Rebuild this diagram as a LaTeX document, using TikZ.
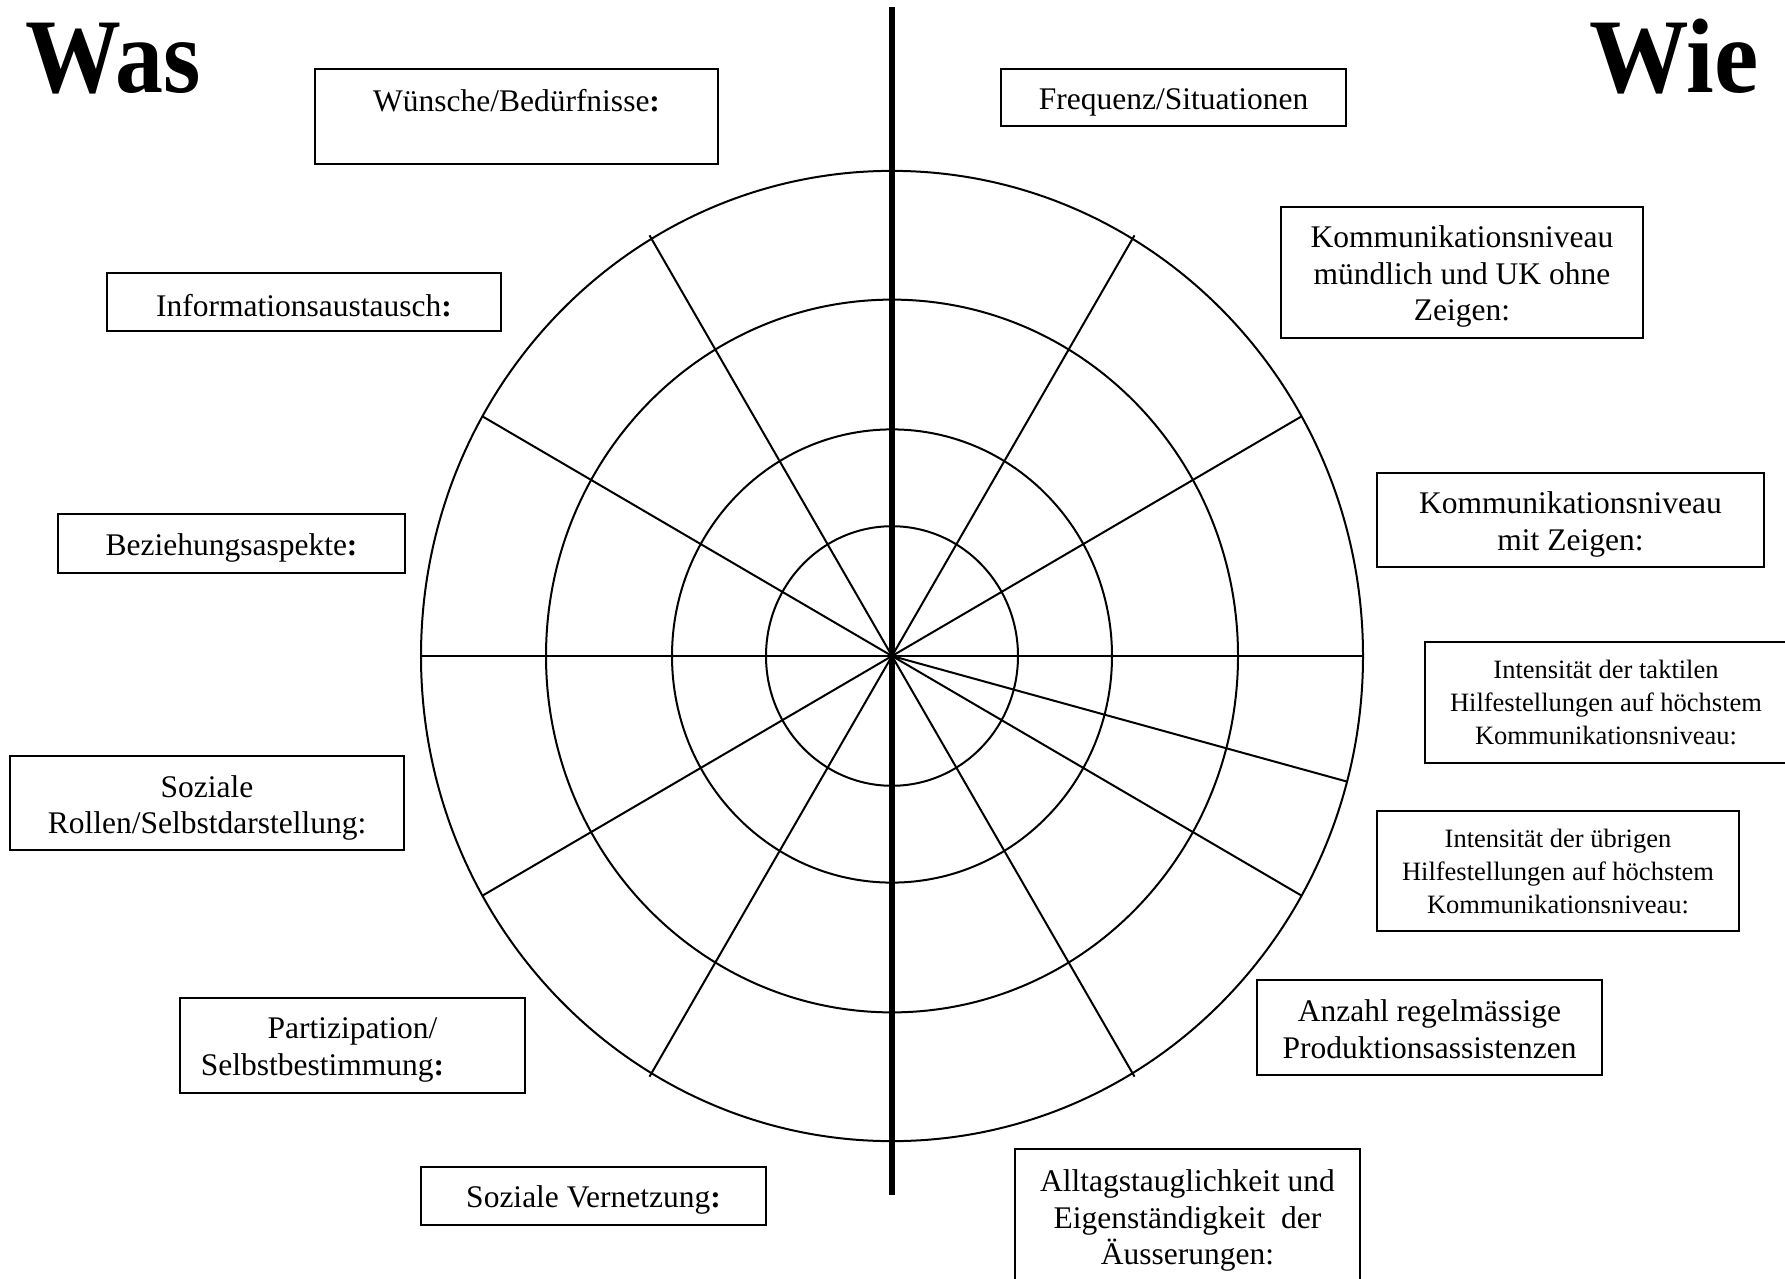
\documentclass[tikz,border=0pt]{standalone}
\usepackage{fontspec}
\setmainfont{Liberation Serif}
\usepackage{graphicx}
\newcommand\tp[1][30pt]{\rule{0pt}{#1}}
\begin{document}
\begin{tikzpicture}[x=1pt,y=-1pt,
  gridline/.style={line width=2pt},
  basebox/.style={draw, line width=2pt, align=center, inner sep=0pt},
  box/.style={basebox, font=\fontsize{31.5}{36.5}\selectfont},
  sbox/.style={basebox, font=\fontsize{26.5}{33}\selectfont},
  title/.style={inner sep=0pt, font=\fontsize{106}{106}\selectfont\bfseries}]
\useasboundingbox (0,0) rectangle (1785,1279);
\clip (0,0) rectangle (1785,1279);
\coordinate (c) at (892,656);
\foreach \r in {471,346,220,126}
  \draw[gridline] (c) ellipse [x radius=\r pt, y radius={1.03*\r pt}];
\foreach \a/\l in {0/471,29.6/471,59.3/475,120.7/475,150.4/471,180/471,209.6/471,239.3/475,300.7/475,330.4/471,-15/471}
  \draw[gridline] (c) -- ++({\l*cos(\a)},{-1.03*\l*sin(\a)});
\coordinate (vtop) at (892,7);
\coordinate (vbot) at (892,1195);
\draw[line width=6pt] (vtop) -- (vbot);

\node[title, anchor=base west] (was) at (25,93) {\scalebox{0.905}[1]{Was}};
\node[title, anchor=base east] (wie) at (1759,93) {\scalebox{0.94}[1]{Wie}};

\node[box, minimum width=403pt, minimum height=95pt] (wuensche) at (516.5,116.5) {\tp[26pt]Wünsche/Bedürfnisse\textbf{:}\\\mbox{}};
\node[box, minimum width=394pt, minimum height=58pt] (info) at (304,302) {\tp Informationsaustausch\textbf{:}};
\node[box, minimum width=347pt, minimum height=59pt] (bez) at (231.5,543.5) {\tp Beziehungsaspekte\textbf{:}};
\node[box, minimum width=394pt, minimum height=94pt] (rollen) at (207,803) {\tp[32pt]Soziale\\Rollen/Selbstdarstellung:};
\node[box, minimum width=345pt, minimum height=95pt] (partiz) at (352.5,1045.5) {\tp Partizipation/\\Selbstbestimmung\textbf{:}\makebox[60pt]{}};
\node[box, minimum width=345pt, minimum height=58pt] (vernetz) at (593.5,1196) {\tp Soziale Vernetzung\textbf{:}};
\node[box, minimum width=345pt, minimum height=57pt] (freq) at (1173.5,97.5) {\tp Frequenz/Situationen};
\node[box, minimum width=362pt, minimum height=131pt] (muend) at (1462,272.5) {\tp Kommunikationsniveau\\mündlich und UK ohne\\Zeigen:};
\node[box, minimum width=387pt, minimum height=94pt] (zeigen) at (1570.5,520) {\tp[31pt]Kommunikationsniveau\\mit Zeigen:};
\node[sbox, minimum width=362pt, minimum height=121pt] (taktil) at (1606,702.5) {Intensität der taktilen\\Hilfestellungen auf höchstem\\Kommunikationsniveau:};
\node[sbox, minimum width=362pt, minimum height=120pt] (uebrig) at (1558,871) {Intensität der übrigen\\Hilfestellungen auf höchstem\\Kommunikationsniveau:};
\node[box, minimum width=345pt, minimum height=95pt] (anzahl) at (1429.5,1027.5) {\tp[25pt]Anzahl regelmässige\\Produktionsassistenzen};
\node[box, minimum width=345pt, minimum height=136pt] (alltag) at (1187.5,1217) {\tp[29pt]Alltagstauglichkeit und\\Eigenständigkeit\ \ der\\Äusserungen:};
\end{tikzpicture}
\end{document}
